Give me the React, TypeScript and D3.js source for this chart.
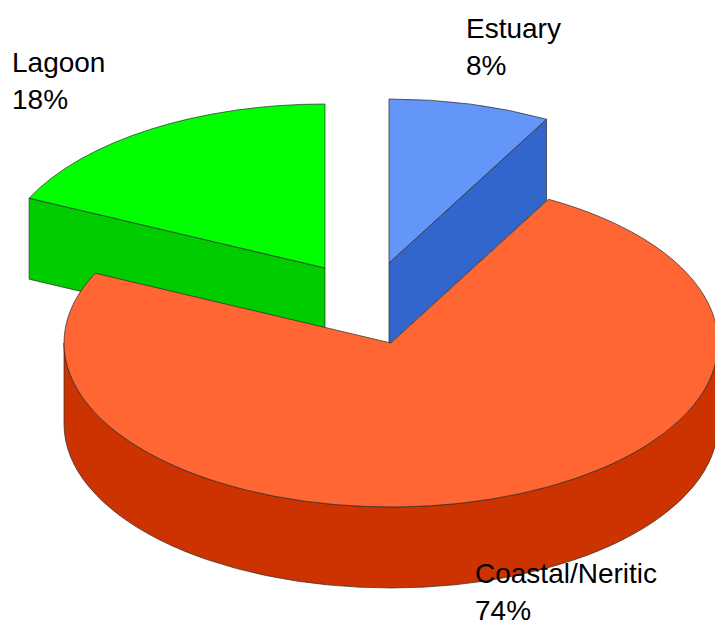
import React from "react";
import * as d3 from "d3";

// habitat shares (%)
const categories = ["Estuary", "Coastal/Neritic", "Lagoon"];
const shares = [8, 74, 18];

const topColors = ["#6495f8", "#ff6633", "#00ff00"];
const sideColors = ["#3366cc", "#cc3300", "#00cc00"];

// exploded offsets of each slice, in px
const explode: [number, number][] = [[-2, -80], [0, 0], [-66, -75]];
// label anchor (left, first baseline)
const labelPos: [number, number][] = [[466, 38], [475, 583], [12, 72]];

const W = 715;
const H = 626;
const cx = 391;
const cy = 343;
const rx = 327;
const ry = 164;
const depth = 81;

const pt = (a: number, dx: number, dy: number, down = 0) => [
  cx + dx + rx * Math.sin(a),
  cy + dy - ry * Math.cos(a) + down,
];

const App = () => {
  const arcs = d3
    .pie<number>()
    .sort(null)
    .startAngle(0)
    .endAngle(2 * Math.PI)
    .value((d) => d)(shares);

  const faces: { d: string; fill: string; key: string }[] = [];

  // back slices first, the big front slice last
  const order = [2, 0, 1];
  order.forEach((i) => {
    const a = arcs[i];
    const [dx, dy] = explode[i];
    const s = a.startAngle;
    const e = a.endAngle;
    const apex = [cx + dx, cy + dy];

    // curved outer wall, only the front half shows
    const f0 = Math.max(s, Math.PI / 2);
    const f1 = Math.min(e, (3 * Math.PI) / 2);
    if (f1 > f0) {
      const p0 = pt(f0, dx, dy);
      const p1 = pt(f1, dx, dy);
      const q1 = pt(f1, dx, dy, depth);
      const q0 = pt(f0, dx, dy, depth);
      faces.push({
        key: `wall${i}`,
        fill: sideColors[i],
        d: `M${p0}A${rx},${ry} 0 0 1 ${p1}L${q1}A${rx},${ry} 0 0 0 ${q0}Z`,
      });
    }

    // radial cut faces that turn toward the viewer
    const cut = (ang: number, normal: number, tag: string) => {
      if (Math.cos(normal) < -1e-3) {
        const p = pt(ang, dx, dy);
        const q = pt(ang, dx, dy, depth);
        faces.push({
          key: tag + i,
          fill: sideColors[i],
          d: `M${apex}L${p}L${q}L${apex[0]},${apex[1] + depth}Z`,
        });
      }
    };
    cut(s, s - Math.PI / 2, "cs");
    cut(e, e + Math.PI / 2, "ce");

    const p0 = pt(s, dx, dy);
    const p1 = pt(e, dx, dy);
    const large = e - s > Math.PI ? 1 : 0;
    faces.push({
      key: `top${i}`,
      fill: topColors[i],
      d: `M${apex}L${p0}A${rx},${ry} 0 ${large} 1 ${p1}Z`,
    });
  });

  return (
    <svg width={W} height={H} style={{ position: "absolute", left: 0, top: 0 }}>
      <rect width={W} height={H} fill="#ffffff" />
      {faces.map((f) => (
        <path
          key={f.key}
          d={f.d}
          fill={f.fill}
          stroke="#2a2a2a"
          strokeWidth={0.7}
          strokeLinejoin="round"
        />
      ))}
      {categories.map((c, i) => (
        <text
          key={c}
          x={labelPos[i][0]}
          y={labelPos[i][1]}
          fontFamily="'Liberation Sans', Arial, sans-serif"
          fontSize={28}
          fill="#000000"
        >
          <tspan x={labelPos[i][0]}>{c}</tspan>
          <tspan x={labelPos[i][0]} dy={37}>
            {shares[i]}%
          </tspan>
        </text>
      ))}
    </svg>
  );
};

export default App;
